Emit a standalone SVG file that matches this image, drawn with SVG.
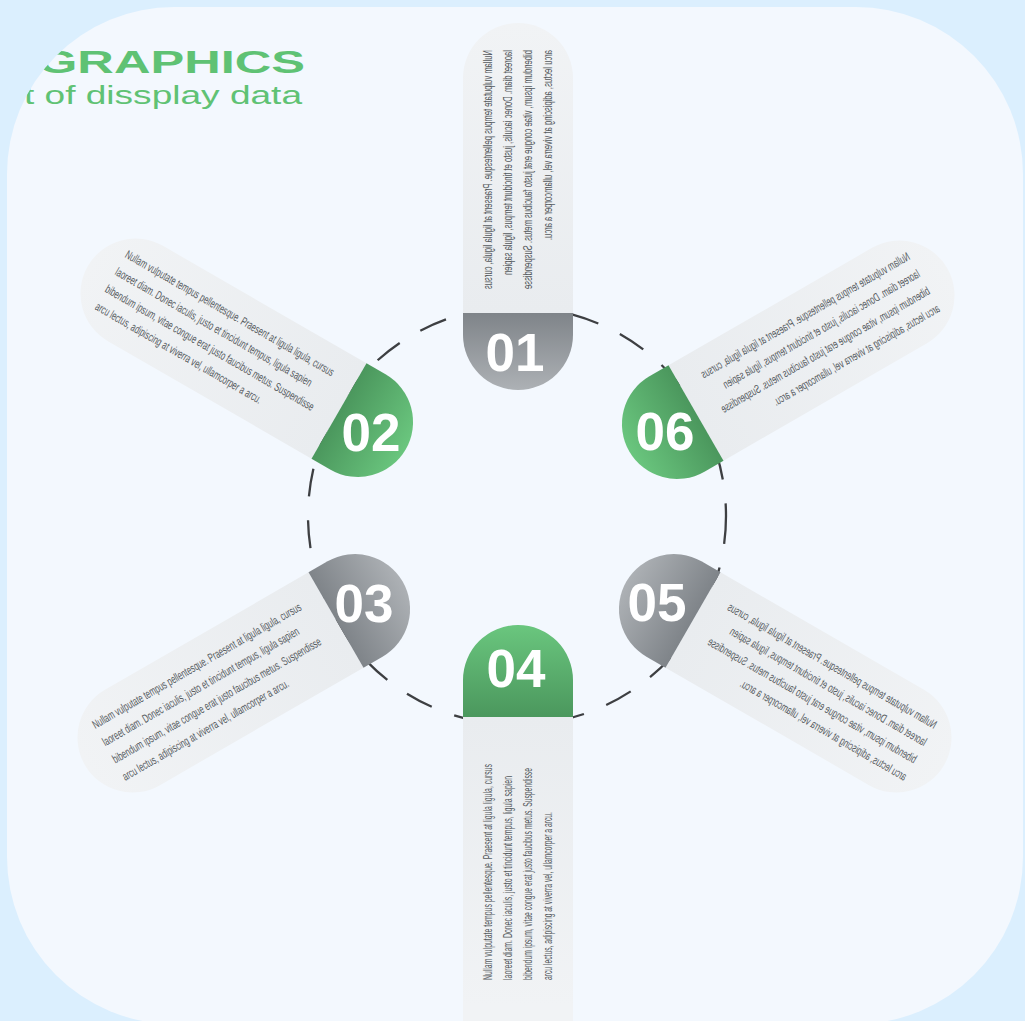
<svg xmlns="http://www.w3.org/2000/svg" xmlns:xlink="http://www.w3.org/1999/xlink" width="1025" height="1021" viewBox="0 0 1025 1021">
<style>
.t{font-family:"Liberation Sans",Arial,sans-serif;font-size:12px;fill:#555a5e}
.num{font-family:"Liberation Sans",Arial,sans-serif;font-weight:bold;font-size:53px;fill:#ffffff;text-anchor:middle}
.title{font-family:"Liberation Sans",Arial,sans-serif;fill:#5fc274}
</style>
<defs>
<linearGradient id="gCard" gradientUnits="userSpaceOnUse" x1="0" y1="0" x2="290" y2="0">
<stop offset="0" stop-color="#e9ecef"/><stop offset="1" stop-color="#f1f3f5"/>
</linearGradient>
<linearGradient id="gGreen" gradientUnits="userSpaceOnUse" x1="-77" y1="0" x2="0" y2="0">
<stop offset="0" stop-color="#6ac67e"/><stop offset="1" stop-color="#4b975d"/>
</linearGradient>
<linearGradient id="gGreen4" gradientUnits="userSpaceOnUse" x1="-92" y1="0" x2="0" y2="0">
<stop offset="0" stop-color="#6ac67e"/><stop offset="1" stop-color="#4b975d"/>
</linearGradient>
<linearGradient id="gGray" gradientUnits="userSpaceOnUse" x1="-77" y1="0" x2="0" y2="0">
<stop offset="0" stop-color="#adb1b5"/><stop offset="1" stop-color="#7f8489"/>
</linearGradient>
<path id="card" d="M0,-55 H235 A55,55 0 0 1 235,55 H0 Z"/>
<path id="card4" d="M0,-55 H340 V55 H0 Z"/>
<path id="cap" d="M0,-55 H-22 A55,55 0 0 0 -22,55 H0 Z"/>
<path id="cap4" d="M0,-55 H-37 A55,55 0 0 0 -37,55 H0 Z"/>
<clipPath id="clipBg"><rect x="7" y="7" width="1016" height="1017" rx="167" ry="167"/></clipPath>
</defs>

<rect x="0" y="0" width="1025" height="1021" fill="#dbeffe"/>
<rect x="7" y="7" width="1016" height="1017" rx="167" ry="167" fill="#f3f8fe"/>

<g id="title" clip-path="url(#clipBg)">
<text class="title" x="38" y="73" font-size="32" font-weight="bold" textLength="267" lengthAdjust="spacingAndGlyphs">GRAPHICS</text>
<text class="title" x="24" y="104" font-size="25.5" textLength="278" lengthAdjust="spacingAndGlyphs">t of dissplay data</text>
</g>

<g id="connectors">
<circle cx="517" cy="516" r="209" fill="none" stroke="#3d3f42" stroke-width="2.3" stroke-dasharray="28 24"/>
</g>

<g id="node-01">
<g transform="translate(518,313) rotate(-90)">
<use xlink:href="#card" fill="url(#gCard)"/>
<use xlink:href="#cap" fill="url(#gGray)"/>
<g transform="scale(-1,1)">
<text class="t" x="-263" y="-26" textLength="239" lengthAdjust="spacingAndGlyphs">Nullam vulputate tempus pellentesque. Praesent at ligula ligula, cursus</text>
<text class="t" x="-263" y="-6" textLength="225" lengthAdjust="spacingAndGlyphs">laoreet diam. Donec iaculis, justo et tincidunt tempus, ligula sapien</text>
<text class="t" x="-263" y="14" textLength="239" lengthAdjust="spacingAndGlyphs">bibendum ipsum, vitae congue erat justo faucibus metus. Suspendisse</text>
<text class="t" x="-263" y="34" textLength="190" lengthAdjust="spacingAndGlyphs">arcu lectus, adipiscing at viverra vel, ullamcorper a arcu.</text>
</g>
</g>
<text class="num" x="515" y="371">01</text>
</g>

<g id="node-02">
<g transform="translate(339,411) rotate(210)">
<use xlink:href="#card" fill="url(#gCard)"/>
<use xlink:href="#cap" fill="url(#gGreen)"/>
<g transform="rotate(180)">
<text class="t" x="-263" y="-26" textLength="239" lengthAdjust="spacingAndGlyphs">Nullam vulputate tempus pellentesque. Praesent at ligula ligula, cursus</text>
<text class="t" x="-263" y="-6" textLength="225" lengthAdjust="spacingAndGlyphs">laoreet diam. Donec iaculis, justo et tincidunt tempus, ligula sapien</text>
<text class="t" x="-263" y="14" textLength="239" lengthAdjust="spacingAndGlyphs">bibendum ipsum, vitae congue erat justo faucibus metus. Suspendisse</text>
<text class="t" x="-263" y="34" textLength="190" lengthAdjust="spacingAndGlyphs">arcu lectus, adipiscing at viverra vel, ullamcorper a arcu.</text>
</g>
</g>
<text class="num" x="371" y="451">02</text>
</g>

<g id="node-03">
<g transform="translate(336,620) rotate(150)">
<use xlink:href="#card" fill="url(#gCard)"/>
<use xlink:href="#cap" fill="url(#gGray)"/>
<g transform="rotate(180)">
<text class="t" x="-263" y="-26" textLength="239" lengthAdjust="spacingAndGlyphs">Nullam vulputate tempus pellentesque. Praesent at ligula ligula, cursus</text>
<text class="t" x="-263" y="-6" textLength="225" lengthAdjust="spacingAndGlyphs">laoreet diam. Donec iaculis, justo et tincidunt tempus, ligula sapien</text>
<text class="t" x="-263" y="14" textLength="239" lengthAdjust="spacingAndGlyphs">bibendum ipsum, vitae congue erat justo faucibus metus. Suspendisse</text>
<text class="t" x="-263" y="34" textLength="190" lengthAdjust="spacingAndGlyphs">arcu lectus, adipiscing at viverra vel, ullamcorper a arcu.</text>
</g>
</g>
<text class="num" x="364" y="622">03</text>
</g>

<g id="node-04">
<g transform="translate(518,717) rotate(90)">
<use xlink:href="#card4" fill="url(#gCard)"/>
<use xlink:href="#cap4" fill="url(#gGreen4)"/>
<g transform="rotate(180)">
<text class="t" x="-263" y="-26" textLength="216" lengthAdjust="spacingAndGlyphs">Nullam vulputate tempus pellentesque. Praesent at ligula ligula, cursus</text>
<text class="t" x="-263" y="-6" textLength="204" lengthAdjust="spacingAndGlyphs">laoreet diam. Donec iaculis, justo et tincidunt tempus, ligula sapien</text>
<text class="t" x="-263" y="14" textLength="212" lengthAdjust="spacingAndGlyphs">bibendum ipsum, vitae congue erat justo faucibus metus. Suspendisse</text>
<text class="t" x="-263" y="34" textLength="168" lengthAdjust="spacingAndGlyphs">arcu lectus, adipiscing at viverra vel, ullamcorper a arcu.</text>
</g>
</g>
<text class="num" x="516" y="687">04</text>
</g>

<g id="node-05">
<g transform="translate(693,620) rotate(30)">
<use xlink:href="#card" fill="url(#gCard)"/>
<use xlink:href="#cap" fill="url(#gGray)"/>
<g transform="scale(-1,1)">
<text class="t" x="-263" y="-26" textLength="239" lengthAdjust="spacingAndGlyphs">Nullam vulputate tempus pellentesque. Praesent at ligula ligula, cursus</text>
<text class="t" x="-263" y="-6" textLength="225" lengthAdjust="spacingAndGlyphs">laoreet diam. Donec iaculis, justo et tincidunt tempus, ligula sapien</text>
<text class="t" x="-263" y="14" textLength="239" lengthAdjust="spacingAndGlyphs">bibendum ipsum, vitae congue erat justo faucibus metus. Suspendisse</text>
<text class="t" x="-263" y="34" textLength="190" lengthAdjust="spacingAndGlyphs">arcu lectus, adipiscing at viverra vel, ullamcorper a arcu.</text>
</g>
</g>
<text class="num" x="657" y="621">05</text>
</g>

<g id="node-06">
<g transform="translate(696,413) rotate(-30)">
<use xlink:href="#card" fill="url(#gCard)"/>
<use xlink:href="#cap" fill="url(#gGreen)"/>
<g transform="scale(-1,1)">
<text class="t" x="-263" y="-26" textLength="239" lengthAdjust="spacingAndGlyphs">Nullam vulputate tempus pellentesque. Praesent at ligula ligula, cursus</text>
<text class="t" x="-263" y="-6" textLength="225" lengthAdjust="spacingAndGlyphs">laoreet diam. Donec iaculis, justo et tincidunt tempus, ligula sapien</text>
<text class="t" x="-263" y="14" textLength="239" lengthAdjust="spacingAndGlyphs">bibendum ipsum, vitae congue erat justo faucibus metus. Suspendisse</text>
<text class="t" x="-263" y="34" textLength="190" lengthAdjust="spacingAndGlyphs">arcu lectus, adipiscing at viverra vel, ullamcorper a arcu.</text>
</g>
</g>
<text class="num" x="665" y="450">06</text>
</g>
</svg>
